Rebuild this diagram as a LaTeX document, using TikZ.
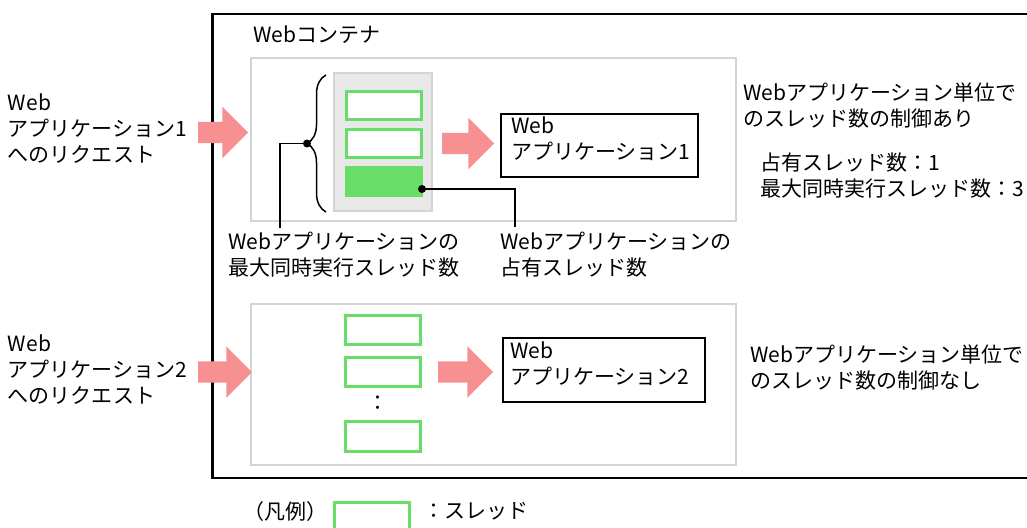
\documentclass[tikz,border=0pt]{standalone}
\usepackage{fontspec}
\setmainfont{Noto Sans CJK JP}
\usetikzlibrary{shapes.arrows,decorations.pathreplacing,positioning}

\definecolor{arrowpink}{HTML}{F79191}
\definecolor{threadgreen}{HTML}{68DE68}
\definecolor{panelgray}{HTML}{D4D4D4}
\definecolor{poolgray}{HTML}{E8E8E8}

\tikzset{
  txt/.style={font=\fontsize{21}{26}\selectfont, inner sep=0pt, outer sep=0pt, align=left, anchor=north west},
  panel/.style={draw=panelgray, line width=2pt, anchor=north west, inner sep=0pt, outer sep=0pt},
  pool/.style={draw=panelgray, fill=poolgray, line width=1.5pt, anchor=north west, inner sep=0pt, outer sep=0pt},
  thread/.style={draw=threadgreen, fill=white, line width=3pt, minimum width=75pt, minimum height=28pt, anchor=north west, inner sep=0pt, outer sep=0pt},
  busythread/.style={thread, fill=threadgreen},
  appbox/.style={draw, line width=2pt, anchor=north west, inner sep=0pt, outer sep=0pt},
  fatarrow/.style={single arrow, fill=arrowpink, inner sep=0pt, inner ysep=10.5pt, minimum width=51pt, single arrow head extend=15pt, anchor=tail, outer sep=0pt},
  tag/.style={circle, fill, inner sep=0pt, minimum size=8pt},
}

\begin{document}
\begin{tikzpicture}[x=1pt,y=-1pt]
    \useasboundingbox (0,0) rectangle (1027,527);

    % Web container
    \draw[line width=2.2pt] (1035,14) -| (212.5,478) -- (1035,478);
    \node[txt] (conttitle) at (253,26) {Webコンテナ};

    % application 1
    \node[panel, minimum width=485pt, minimum height=163pt] (panel1) at (251,58) {};
    \node[pool, minimum width=98pt, minimum height=138pt] (pool1) at (334,73) {};
    \node[thread] (thr1a) at (346.5,91.5) {};
    \node[thread] (thr1b) at (346.5,129.5) {};
    \node[busythread] (thr1c) at (346.5,167.5) {};
    \draw[decorate, decoration={brace, amplitude=19pt}, line width=1.5pt] (326,212) -- (326,75);
    \node[tag] (maxdot) at (307,143.5) {};
    \node[tag] (owndot) at (422,189) {};

    \node[fatarrow, minimum height=50pt] (req1arrow) at (198,132.5) {};
    \node[fatarrow, minimum height=52pt] (app1arrow) at (442,143.5) {};
    \node[appbox, minimum width=197pt, minimum height=63pt] (app1) at (501,114) {};
    \node[txt] (app1txt) at (511,117) {Web\\アプリケーション1};

    \node[txt] (req1) at (8,94) {Web\\アプリケーション1\\へのリクエスト};
    \node[txt] (maxlbl) at (228,232) {Webアプリケーションの\\最大同時実行スレッド数};
    \node[txt] (ownlbl) at (500,232) {Webアプリケーションの\\占有スレッド数};
    \coordinate (maxbend) at (280,143.5);
    \coordinate (ownbend) at (515,189);
    \draw[line width=1.5pt] (maxdot) -- (maxbend) -- (maxbend |- 0,228);
    \draw[line width=1.5pt] (owndot) -- (ownbend) -- (ownbend |- 0,227);

    \node[txt] (note1) at (743,83) {Webアプリケーション単位で\\のスレッド数の制御あり};
    \node[txt] (count1) at (760,153) {占有スレッド数：1\\最大同時実行スレッド数：3};

    % application 2
    \node[panel, minimum width=485pt, minimum height=161pt] (panel2) at (251,304) {};
    \node[thread, minimum height=29pt] (thr2a) at (345.5,315.5) {};
    \node[thread, minimum height=29pt] (thr2b) at (345.5,357.5) {};
    \node[txt, anchor=base] (thrdots) at (378,410) {：};
    \node[thread, minimum height=30pt] (thr2c) at (345.5,421.5) {};

    \node[fatarrow, minimum height=54pt] (req2arrow) at (198,372) {};
    \node[fatarrow, minimum height=55pt] (app2arrow) at (438,372) {};
    \node[appbox, minimum width=202pt, minimum height=64pt] (app2) at (503,338) {};
    \node[txt] (app2txt) at (510,342) {Web\\アプリケーション2};

    \node[txt] (req2) at (8,335) {Web\\アプリケーション2\\へのリクエスト};
    \node[txt] (note2) at (750,345) {Webアプリケーション単位で\\のスレッド数の制御なし};

    % legend
    \node[txt] (legtitle) at (243,502) {（凡例）};
    \node[thread, minimum height=40pt] (legthread) at (334.5,502.5) {};
    \node[txt] (legtext) at (423,502) {：スレッド};
\end{tikzpicture}
\end{document}
